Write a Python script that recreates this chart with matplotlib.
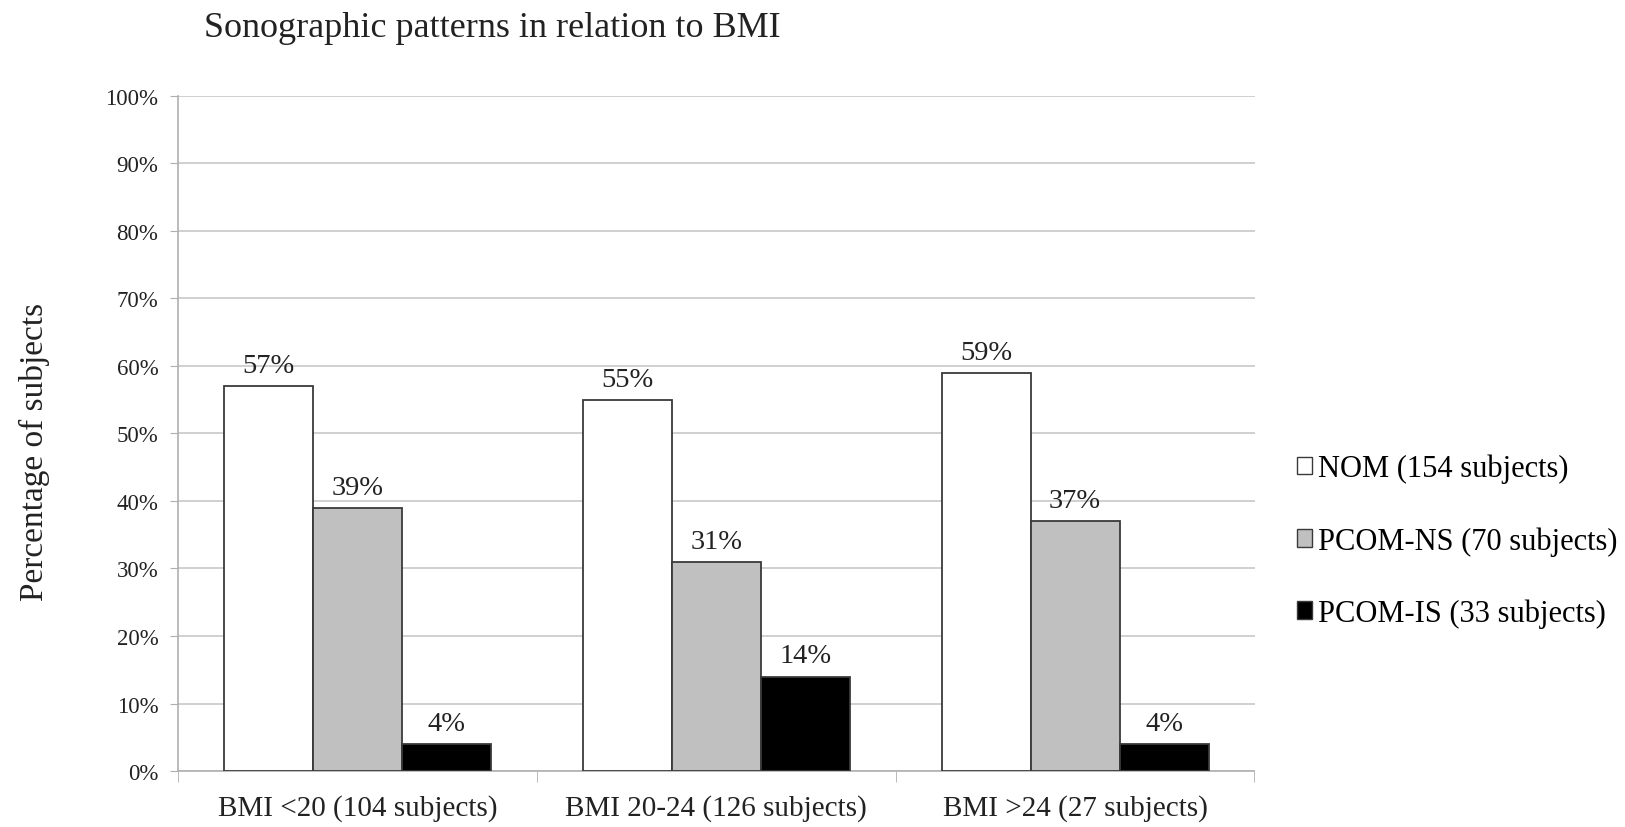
import matplotlib.pyplot as plt
import numpy as np

plt.rcParams['font.family'] = ['Liberation Serif', 'DejaVu Serif']

groups = ['BMI <20 (104 subjects)', 'BMI 20-24 (126 subjects)', 'BMI >24 (27 subjects)']
series = ['NOM (154 subjects)', 'PCOM-NS (70 subjects)', 'PCOM-IS (33 subjects)']
nom = [57, 55, 59]
pcom_ns = [39, 31, 37]
pcom_is = [4, 14, 4]
colors = ['white', '#c0c0c0', 'black']

fig = plt.figure(figsize=(16.25, 8.28), dpi=100)
ax = fig.add_axes([0.1095, 0.0676, 0.6625, 0.8154])

x = np.arange(len(groups))
w = 0.248
for i, (vals, c, name) in enumerate(zip([nom, pcom_ns, pcom_is], colors, series)):
    bars = ax.bar(x + (i - 1) * w, vals, w, color=c, edgecolor='#3a3a3a',
                  linewidth=1.3, label=name, zorder=3)
    for b, v in zip(bars, vals):
        ax.text(b.get_x() + b.get_width() / 2, v + 1.2, f'{v}%', ha='center',
                va='bottom', fontsize=20.5, color='#222222')

ax.set_xlim(-0.5, 2.5)
ax.set_ylim(0, 100)
ax.set_yticks(np.arange(0, 101, 10))
ax.set_yticklabels([f'{t}%' for t in range(0, 101, 10)])
ax.set_xticks(x)
ax.set_xticklabels(groups)
ax.set_xticks([-0.5, 0.5, 1.5, 2.5], minor=True)
ax.tick_params(axis='x', which='major', length=0, pad=16.5, labelsize=21, colors='#222222')
ax.tick_params(axis='x', which='minor', length=8, color='#b0b0b0', direction='out')
ax.tick_params(axis='y', length=6, color='#b0b0b0', labelsize=16.5, colors='#222222', pad=8)
for t in ax.get_yticklabels():
    t.set_color('#222222')
ax.grid(axis='y', color='#c8c8c8', linewidth=1.2, zorder=0)
for s in ['top', 'right']:
    ax.spines[s].set_visible(False)
ax.spines['left'].set_color('#b0b0b0')
ax.spines['bottom'].set_color('#b0b0b0')
ax.spines['left'].set_linewidth(1.2)
ax.spines['bottom'].set_linewidth(1.2)

fig.text(0.021, 0.454, 'Percentage of subjects', fontsize=24, color='#222222',
         rotation=90, ha='center', va='center')
fig.text(0.1255, 0.965, 'Sonographic patterns in relation to BMI', fontsize=26,
         color='#222222', va='center', ha='left')

leg = fig.legend(loc='center left', bbox_to_anchor=(0.781, 0.3454), frameon=False,
                 fontsize=22, handlelength=0.5, handleheight=0.5, handletextpad=0.2,
                 labelspacing=1.4)
for h in leg.legend_handles:
    h.set_linewidth(1.0)

fig.savefig('out.png', dpi=100, facecolor='white')
